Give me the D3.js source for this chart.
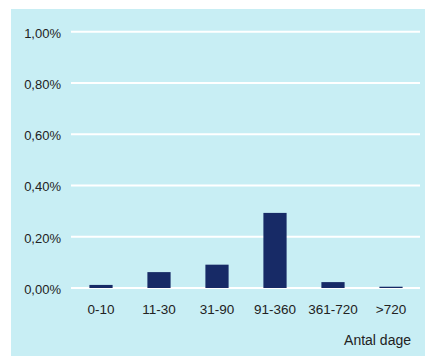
<!DOCTYPE html>
<html>
<head>
<meta charset="utf-8">
<script src="https://cdn.jsdelivr.net/npm/d3@7"></script>
<style>
  body { margin: 0; background: #fff; }
  svg { display: block; font-family: "Liberation Sans", Arial, sans-serif; }
</style>
</head>
<body>
<div id="chart"></div>
<script>
const categories = ["0-10", "11-30", "31-90", "91-360", "361-720", ">720"];
const values = [0.012, 0.062, 0.091, 0.293, 0.023, 0.005];
const yTicks = [0, 0.2, 0.4, 0.6, 0.8, 1.0];

const width = 425, height = 356;
const svg = d3.select("#chart").append("svg").attr("width", width).attr("height", height);

svg.append("rect").attr("x", 11).attr("y", 9).attr("width", width - 11).attr("height", height - 9).attr("fill", "#c8eef4");

const x = d3.scaleBand().domain(categories).range([72, 420]).paddingInner(0.6).paddingOuter(0.3);
const y = d3.scaleLinear().domain([0, 1]).range([288, 31.7]);

const fmt = v => v.toFixed(2).replace(".", ",") + "%";
const font = "Liberation Sans, Arial, sans-serif";

svg.append("g").selectAll("line").data(yTicks).enter().append("line")
  .attr("x1", 71).attr("x2", 420)
  .attr("y1", d => y(d)).attr("y2", d => y(d))
  .attr("stroke", "#fff").attr("stroke-width", 2);

const yAxis = d3.axisLeft(y).tickValues(yTicks).tickFormat(fmt).tickSize(0).tickPadding(0);
svg.append("g").attr("transform", "translate(61,0)").call(yAxis)
  .call(g => g.select(".domain").remove())
  .selectAll("text").attr("font-size", 13).attr("fill", "#222").attr("dy", 5.3)
  .style("font-family", font);

svg.append("g").selectAll("rect").data(values).enter().append("rect")
  .attr("x", (d, i) => x(categories[i]))
  .attr("width", x.bandwidth())
  .attr("y", d => y(d))
  .attr("height", d => y(0) - y(d))
  .attr("fill", "#172a66");

const xAxis = d3.axisBottom(x).tickSize(0).tickPadding(0);
svg.append("g").attr("transform", "translate(0,314)").call(xAxis)
  .call(g => g.select(".domain").remove())
  .selectAll("text").attr("font-size", 13.5).attr("fill", "#222").attr("dy", 0)
  .style("font-family", font);

svg.append("text").attr("x", 411).attr("y", 344.7).attr("text-anchor", "end")
  .attr("font-size", 14).attr("fill", "#222").style("font-family", font).text("Antal dage");
</script>
</body>
</html>
